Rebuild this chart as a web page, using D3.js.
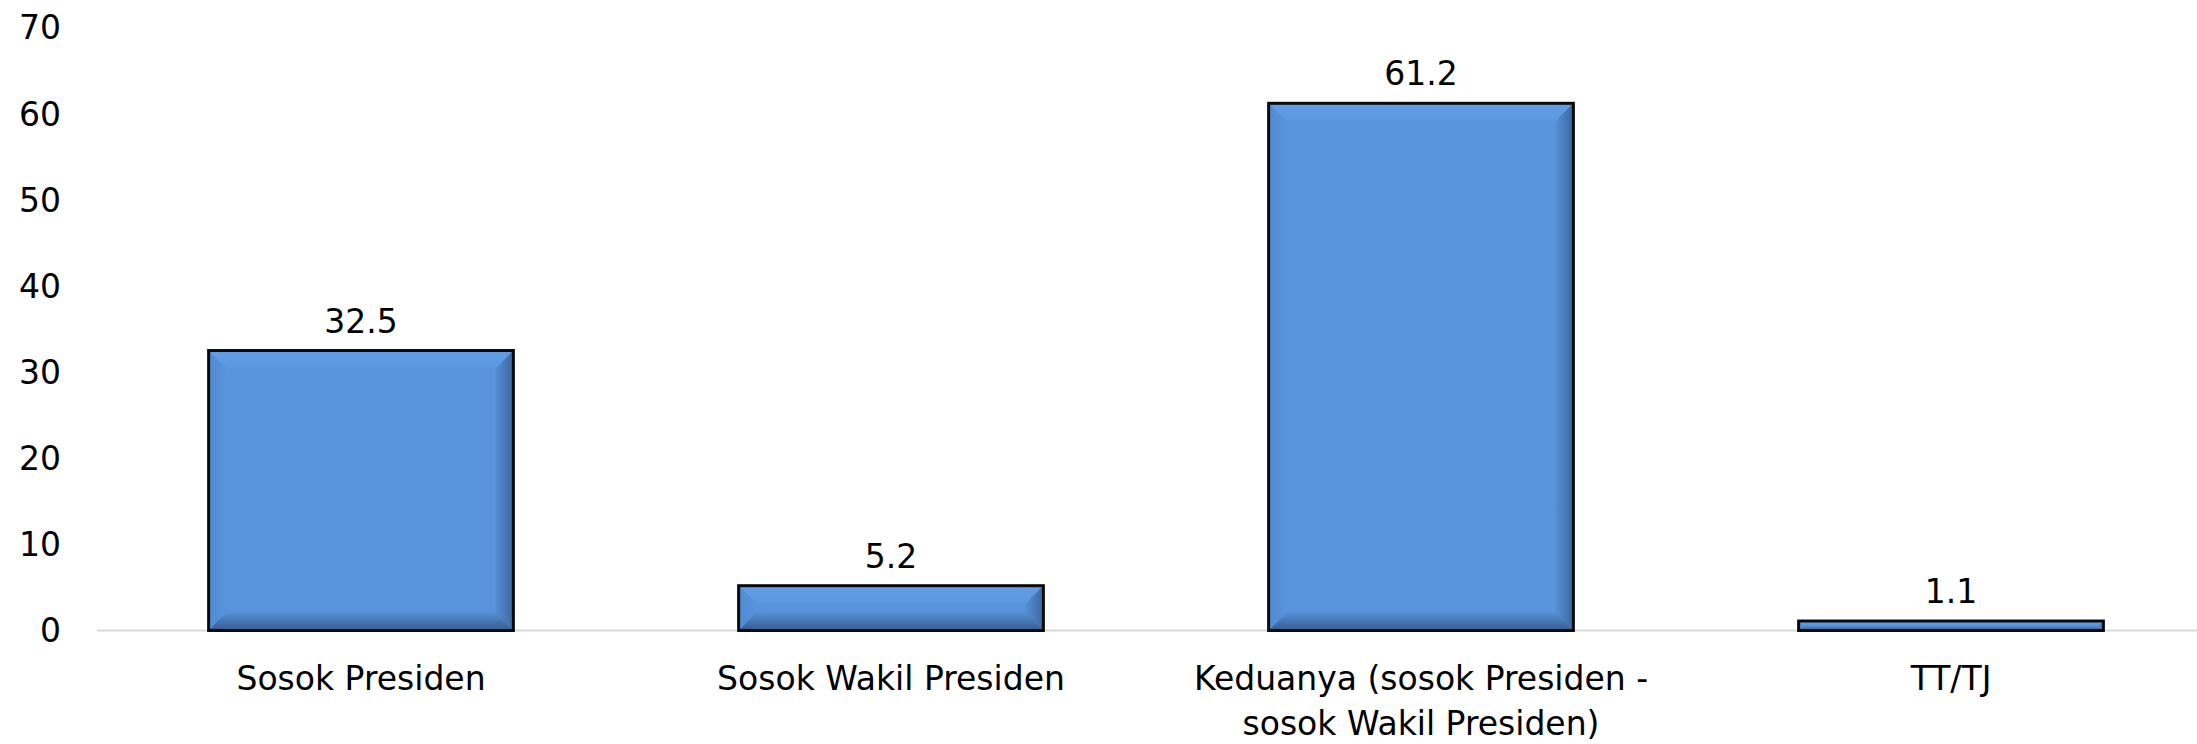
<!DOCTYPE html>
<html>
<head>
<meta charset="utf-8">
<style>
  html, body { margin: 0; padding: 0; background: #fff; }
  svg { display: block; }
</style>
</head>
<body>
<svg width="2197" height="744" font-family="'DejaVu Sans', Verdana, sans-serif" font-size="33"></svg>
<script src="https://d3js.org/d3.v7.min.js"></script>
<script>

// data
var categories = ["Sosok Presiden", "Sosok Wakil Presiden", "Keduanya (sosok Presiden -\nsosok Wakil Presiden)", "TT/TJ"];
var values = [32.5, 5.2, 61.2, 1.1];
var yTicks = [0, 10, 20, 30, 40, 50, 60, 70];

var svg = d3.select("svg"),
    width = +svg.attr("width"),
    height = +svg.attr("height");

var x = d3.scaleBand()
    .domain(categories)
    .range([96, 2216])
    .paddingInner(0.425)
    .paddingOuter(0.2125);

var y = d3.scaleLinear()
    .domain([0, 70])
    .range([630.5, 27.5]);

var defs = svg.append("defs");

// bevel shading, a bit like the office "bevel" bar effect
function grad(id, x1, y1, x2, y2, c1, c2) {
  var g = defs.append("linearGradient").attr("id", id)
      .attr("x1", x1).attr("y1", y1).attr("x2", x2).attr("y2", y2);
  g.append("stop").attr("offset", "0%").attr("stop-color", c1);
  g.append("stop").attr("offset", "100%").attr("stop-color", c2);
}
grad("bev-bottom", 0, 0, 0, 1, "#5590d6", "#355b8e");
grad("bev-right", 0, 0, 1, 0, "#5590d6", "#3d679f");
grad("bev-top", 0, 0, 0, 1, "#639fe8", "#5a97e0");
grad("bev-left", 0, 0, 1, 0, "#4f8ad2", "#5893db");

// y axis labels (no axis line, just text)
svg.append("g")
    .attr("font-size", 33)
    .attr("text-anchor", "end")
  .selectAll("text")
  .data(yTicks)
  .enter().append("text")
    .attr("x", 61)
    .attr("y", function(d) { return y(d); })
    .attr("dy", "0.36em")
    .attr("fill", "#000")
    .text(function(d) { return d; });

// baseline
svg.append("line")
    .attr("x1", 97)
    .attr("x2", width)
    .attr("y1", y(0))
    .attr("y2", y(0))
    .attr("stroke", "#d9d9d9")
    .attr("stroke-width", 2);

var bw = x.bandwidth();

var bar = svg.selectAll(".bar")
  .data(values.map(function(v, i) { return {cat: categories[i], value: v}; }))
  .enter().append("g")
    .attr("class", "bar");

bar.each(function(d) {
  var g = d3.select(this),
      x0 = x(d.cat), x1 = x0 + bw,
      y0 = y(d.value), y1 = y(0),
      b = Math.min(18, (y1 - y0) / 2);

  g.append("rect")
      .attr("x", x0).attr("y", y0)
      .attr("width", bw).attr("height", y1 - y0)
      .attr("fill", "#5893db");

  var pts = function(a) { return a.map(function(p) { return p.join(","); }).join(" "); };
  g.append("polygon").attr("fill", "url(#bev-top)")
      .attr("points", pts([[x0, y0], [x1, y0], [x1 - b, y0 + b], [x0 + b, y0 + b]]));
  g.append("polygon").attr("fill", "url(#bev-left)")
      .attr("points", pts([[x0, y0], [x0 + b, y0 + b], [x0 + b, y1 - b], [x0, y1]]));
  g.append("polygon").attr("fill", "url(#bev-right)")
      .attr("points", pts([[x1, y0], [x1, y1], [x1 - b, y1 - b], [x1 - b, y0 + b]]));
  g.append("polygon").attr("fill", "url(#bev-bottom)")
      .attr("points", pts([[x0, y1], [x0 + b, y1 - b], [x1 - b, y1 - b], [x1, y1]]));

  g.append("rect")
      .attr("x", x0).attr("y", y0)
      .attr("width", bw).attr("height", y1 - y0)
      .attr("fill", "none")
      .attr("stroke", "#0a0a0a")
      .attr("stroke-width", 3);

  g.append("text")
      .attr("x", x0 + bw / 2)
      .attr("y", y0 - 18)
      .attr("text-anchor", "middle")
      .attr("fill", "#000")
      .text(d3.format(".1f")(d.value));
});

// category labels, manual line breaks
svg.append("g")
    .attr("text-anchor", "middle")
  .selectAll("text")
  .data(categories)
  .enter().append("text")
    .attr("fill", "#000")
    .attr("transform", function(d) { return "translate(" + (x(d) + bw / 2) + ",690)"; })
  .selectAll("tspan")
  .data(function(d) { return d.split("\n"); })
  .enter().append("tspan")
    .attr("x", 0)
    .attr("y", function(d, i) { return i * 45; })
    .text(function(d) { return d; });

</script>
</body>
</html>
